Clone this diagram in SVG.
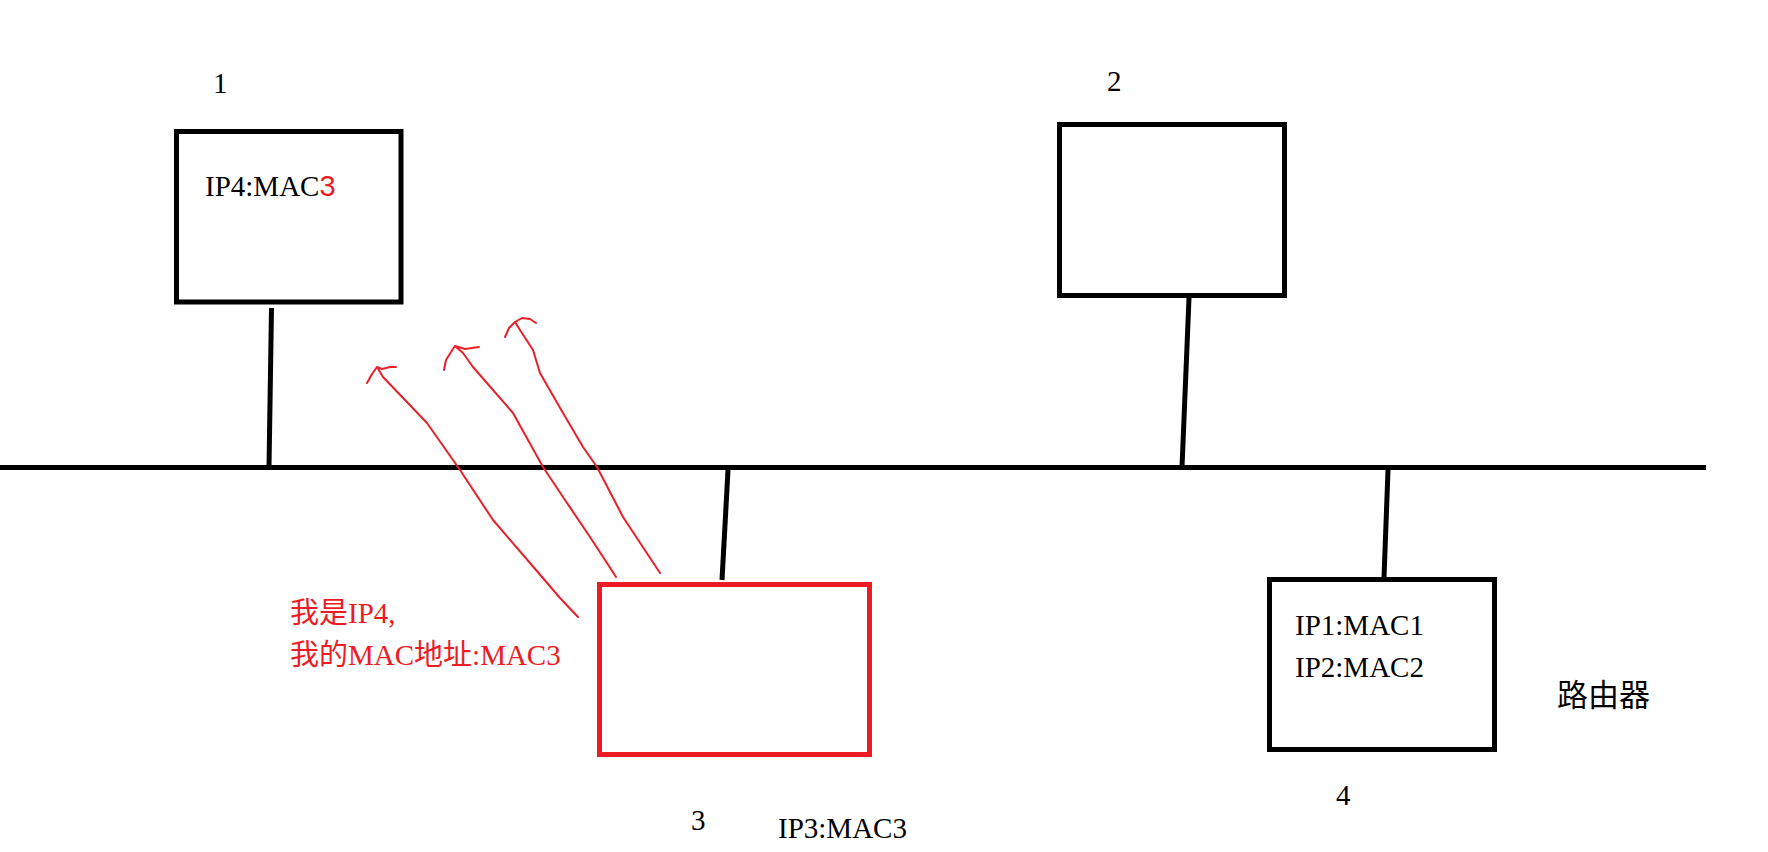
<svg xmlns="http://www.w3.org/2000/svg" width="1768" height="852" viewBox="0 0 1768 852">
<style>
.box{fill:none;stroke:#000;stroke-width:5}
.rbox{fill:none;stroke:#ED1C24;stroke-width:5}
.wire{stroke:#000;stroke-width:5;fill:none;stroke-linecap:butt}
.arrow{stroke:#E8202A;stroke-width:2;fill:none;stroke-linejoin:round;stroke-linecap:round}
.t{font-family:"Liberation Serif","Noto Sans CJK SC",serif;font-size:29px;fill:#000}
.r{fill:#ED1C24}
</style>
<rect width="1768" height="852" fill="#fff"/>
<g id="connectors">
<line class="wire" x1="0" y1="467.5" x2="1706" y2="467.5"/>
<line class="wire" x1="271.5" y1="308" x2="269" y2="467"/>
<line class="wire" x1="1189" y1="298" x2="1182" y2="467"/>
<line class="wire" x1="728" y1="470" x2="722" y2="580"/>
<line class="wire" x1="1388" y1="470" x2="1384" y2="578"/>
</g>
<g id="node1">
<rect class="box" x="176.5" y="131.5" width="224.5" height="170.5"/>
<text class="t" x="213" y="93">1</text>
<text class="t" x="205" y="196">IP4:MAC<tspan class="r" style="font-family:'Liberation Sans',sans-serif">3</tspan></text>
</g>
<g id="node2">
<rect class="box" x="1059.5" y="124.5" width="225" height="171"/>
<text class="t" x="1107" y="91">2</text>
</g>
<g id="node3">
<rect class="rbox" x="599.5" y="584.5" width="270" height="170"/>
<text class="t" x="691" y="830">3</text>
<text class="t" x="778" y="838">IP3:MAC3</text>
</g>
<g id="node4">
<rect class="box" x="1269.5" y="579.5" width="225" height="170"/>
<text class="t" x="1295" y="635">IP1:MAC1</text>
<text class="t" x="1295" y="677">IP2:MAC2</text>
<text class="t" x="1336" y="805">4</text>
<text class="t" x="1557" y="706" style="font-size:31px">路由器</text>
</g>
<g id="arp-reply">
<path class="arrow" d="M578,617 L560,598 L530,563 L493,520 L460,470 L427,423 L383,377 L377,367 M367,383 L372,374 L377,367 L382,369 L390,367 L396,367"/>
<path class="arrow" d="M616,577 L607,563 L590,537 L563,497 L543,467 L513,413 L473,367 L463,353 L455,346 M444,370 L446,360 L451,352 L455,346 L465,349 L479,347"/>
<path class="arrow" d="M660,573 L623,517 L597,467 L583,447 L563,413 L540,373 L533,350 L520,330 L515,322 M505,337 L509,328 L515,322 L522,318 L530,319 L536,323"/>
<text class="t r" x="290" y="623">我是IP4,</text>
<text class="t r" x="290" y="665">我的MAC地址:MAC3</text>
</g>
</svg>
